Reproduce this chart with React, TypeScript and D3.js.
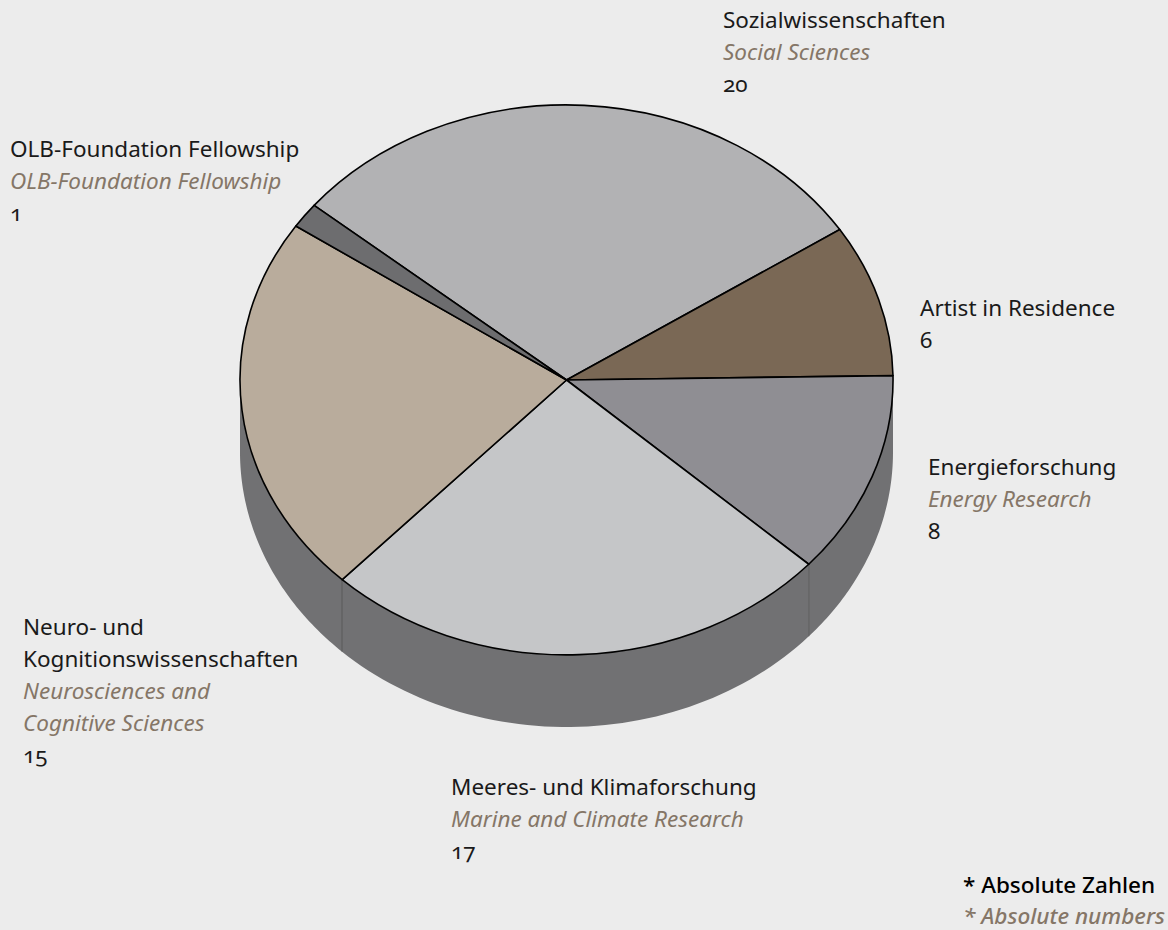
import React from "react";
import * as d3 from "d3";

const categoriesDe = [
  ["Sozialwissenschaften"],
  ["Artist in Residence"],
  ["Energieforschung"],
  ["Meeres- und Klimaforschung"],
  ["Neuro- und", "Kognitionswissenschaften"],
  ["OLB-Foundation Fellowship"],
];
const categoriesEn = [
  ["Social Sciences"],
  [],
  ["Energy Research"],
  ["Marine and Climate Research"],
  ["Neurosciences and", "Cognitive Sciences"],
  ["OLB-Foundation Fellowship"],
];
const values = [20, 6, 8, 17, 15, 1];
const colors = ["#b2b2b4", "#7a6855", "#8f8e93", "#c5c6c8", "#b9ac9c", "#6d6d6f"];

const footnoteDe = "* Absolute Zahlen";
const footnoteEn = "* Absolute numbers";

// label anchor (left x, baseline of first line)
const labelPos = [
  [723, 28],
  [920, 316],
  [928, 475],
  [451, 795],
  [23, 635],
  [10, 157],
];

const W = 1168;
const H = 930;
const cx = 566.5;
const cy = 380;
const rx = 326.5;
const ry = 275;
const depth = 72;
const startDeg = -50.6;
const lineH = 32;
const FONT = "'Noto Sans', 'Open Sans', sans-serif";
const BLACK = "#1a1a1a";
const ITALIC = "#857667";
const SIDE = "#717173";

const pt = (a: number): [number, number] => [cx + rx * Math.sin(a), cy - ry * Math.cos(a)];

function sidePath(a0: number, a1: number): string | null {
  const segs: [number, number][] = [];
  for (let k = -1; k <= 1; k++) {
    const lo = Math.PI / 2 + 2 * Math.PI * k;
    const hi = (3 * Math.PI) / 2 + 2 * Math.PI * k;
    const s = Math.max(a0, lo);
    const e = Math.min(a1, hi);
    if (e > s) segs.push([s, e]);
  }
  if (!segs.length) return null;
  return segs
    .map(([s, e]) => {
      const n = 60;
      const top = d3.range(n + 1).map((i) => pt(s + ((e - s) * i) / n));
      const bot = top.slice().reverse().map(([x, y]) => [x, y + depth] as [number, number]);
      return "M" + top.concat(bot).map((p) => p.join(",")).join("L") + "Z";
    })
    .join("");
}

function isFront(a: number) {
  return Math.cos(a) < 0;
}

export default function App() {
  const start = (startDeg * Math.PI) / 180;
  const pie = d3
    .pie<number>()
    .sort(null)
    .value((d) => d)
    .startAngle(start)
    .endAngle(start + 2 * Math.PI);
  const arcs = pie(values);
  const arc = d3.arc<d3.PieArcDatum<number>>().innerRadius(0).outerRadius(1);

  const boundaries = arcs.map((a) => a.startAngle).filter((a) => isFront(a));

  return (
    <svg
      width={W}
      height={H}
      style={{ position: "absolute", left: 0, top: 0, display: "block" }}
      fontFamily={FONT}
    >
      <rect width={W} height={H} fill="#ececec" />
      {/* side walls */}
      <g>
        {arcs.map((a, i) => {
          const d = sidePath(a.startAngle, a.endAngle);
          return d ? <path key={i} d={d} fill={SIDE} stroke="none" /> : null;
        })}
        {boundaries.map((a, i) => {
          const [x, y] = pt(a);
          return (
            <line key={i} x1={x} y1={y} x2={x} y2={y + depth} stroke="#505052" strokeWidth={0.8} />
          );
        })}
      </g>
      {/* top */}
      <g transform={`translate(${cx},${cy}) scale(${rx},${ry})`}>
        {arcs.map((a, i) => (
          <path
            key={i}
            d={arc(a) || ""}
            fill={colors[i]}
            stroke="#000"
            strokeWidth={1.6}
            strokeLinejoin="round"
            vectorEffect="non-scaling-stroke"
          />
        ))}
      </g>
      {/* labels */}
      <g fontSize={22.5} style={{ fontVariantNumeric: "oldstyle-nums" }}>
        {labelPos.map(([x, y], i) => {
          const lines: { t: string; italic: boolean }[] = [
            ...categoriesDe[i].map((t) => ({ t, italic: false })),
            ...categoriesEn[i].map((t) => ({ t, italic: true })),
            { t: String(values[i]), italic: false },
          ];
          return (
            <g key={i}>
              {lines.map((l, j) => (
                <text
                  key={j}
                  x={x}
                  y={y + j * lineH}
                  fill={l.italic ? ITALIC : BLACK}
                  fontStyle={l.italic ? "italic" : "normal"}
                >
                  {l.t}
                </text>
              ))}
            </g>
          );
        })}
        <text x={963} y={893} fill="#000" fontWeight={500}>
          {footnoteDe}
        </text>
        <text x={963} y={924} fill={ITALIC} fontWeight={500} fontStyle="italic">
          {footnoteEn}
        </text>
      </g>
    </svg>
  );
}
